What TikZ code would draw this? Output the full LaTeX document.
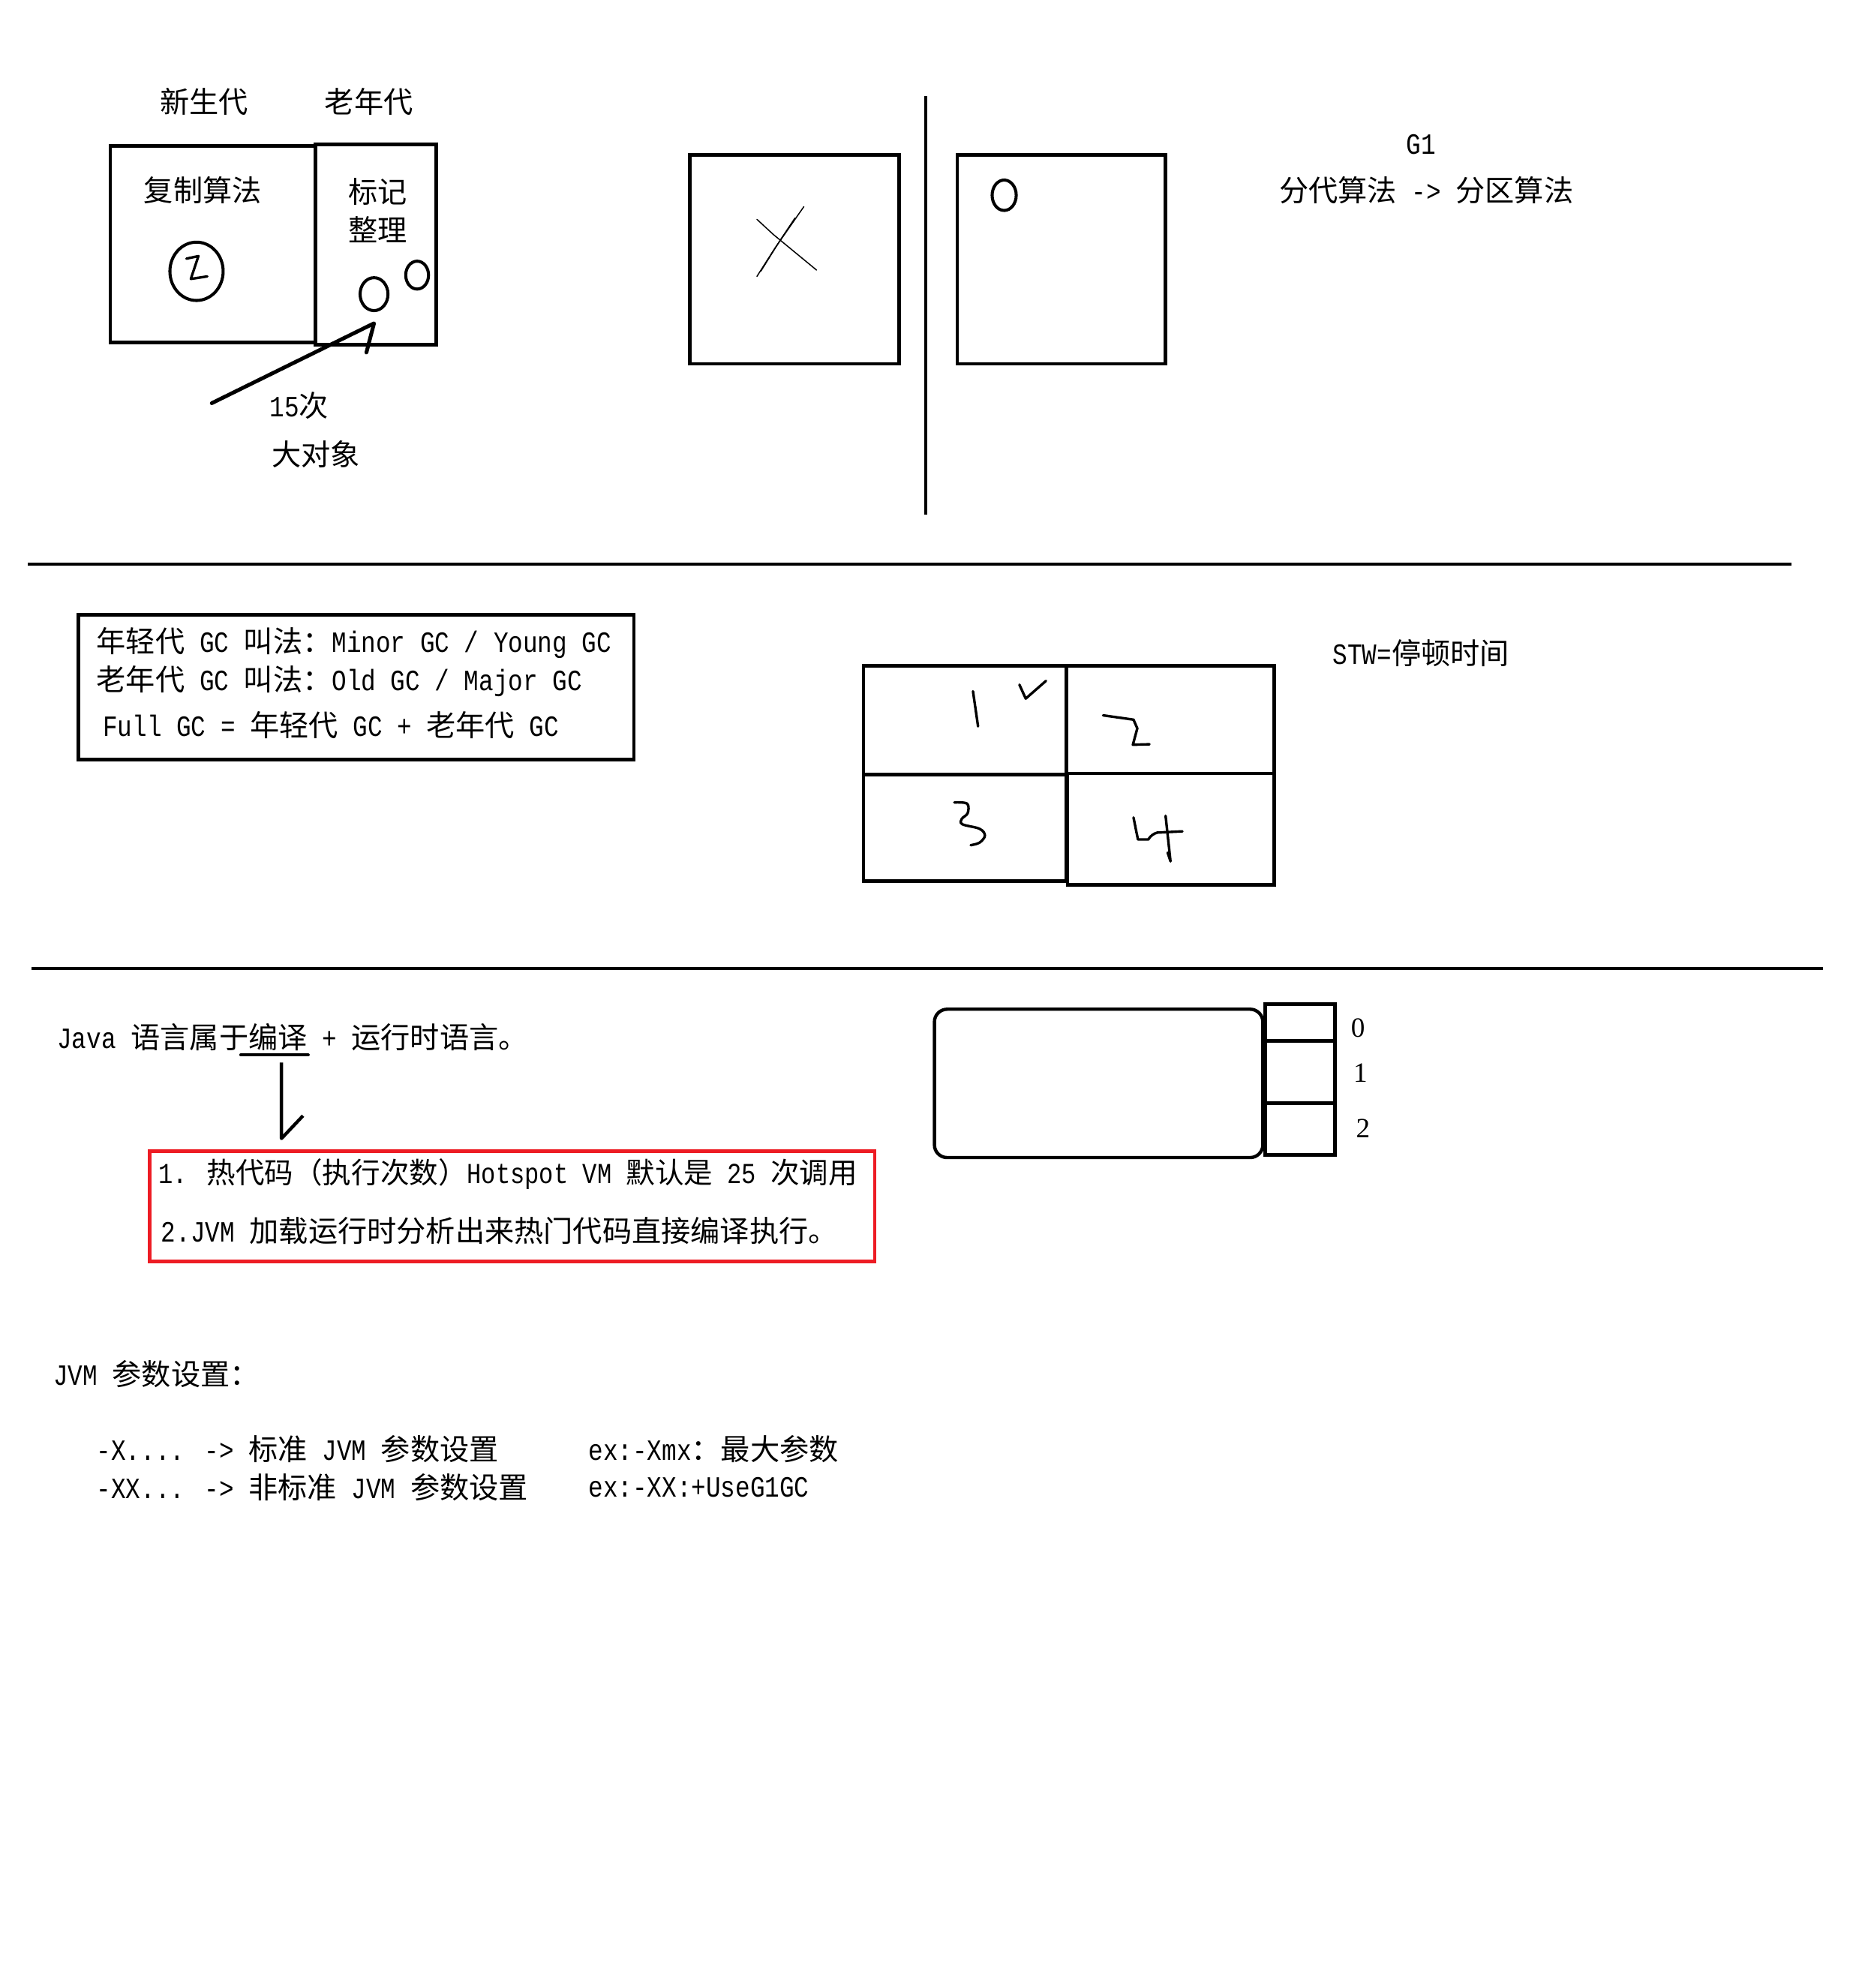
\documentclass[tikz,border=0pt]{standalone}
\usepackage{fontspec}
\setmainfont{Liberation Mono}[FakeStretch=0.8333]
\newfontfamily\zhfont{Noto Sans CJK SC}
\newfontfamily\digitfont{Liberation Serif}
\newcommand\zh[1]{{\zhfont #1}}
\begin{document}
\begin{tikzpicture}[x=1pt,y=-1pt,
  txt/.style={inner sep=0pt, font=\fontsize{23.2}{27}\selectfont},
  ltxt/.style={txt, anchor=west},
  thick box/.style={line width=2.8pt},
  hand/.style={line width=2pt, line cap=round, line join=round},
  thin hand/.style={line width=0.9pt, line cap=round, line join=round},
  sep/.style={line width=2.5pt}]
\useasboundingbox[fill=white] (0,0) rectangle (1459,1568);

% ---------- Section 1: generations ----------
\node[txt] (young) at (161,80) {\zh{新生代}};
\node[txt] (old) at (291,80) {\zh{老年代}};
\draw[thick box] (87,115) rectangle (249,270);
\draw[thick box] (249,114) rectangle (344,272);
\node[txt] (copy) at (160,150) {\zh{复制算法}};
\node[txt] (mark) at (298,151) {\zh{标记}};
\node[txt] (tidy) at (298,181) {\zh{整理}};
\draw[line width=2.4pt] (155,214) ellipse [x radius=21, y radius=23];
\draw[hand] (147,204) -- (156.5,202) -- (150.5,220) -- (163.5,218);
\draw[line width=2.4pt] (295,232) ellipse [x radius=11, y radius=13];
\draw[line width=2.4pt] (329,217) ellipse [x radius=9, y radius=11];
\coordinate (arrowstart) at (167,318);
\coordinate (arrowtip) at (295,255);
\coordinate (arrowhook) at (289,278);
\draw[line width=3pt, line cap=round, line join=round] (arrowstart) -- (arrowtip) -- (arrowhook);
\node[txt] (fifteen) at (236,320) {15\zh{次}};
\node[txt] (bigobj) at (249,358) {\zh{大对象}};

% ---------- Section 1: region copy ----------
\draw[sep] (730,76) -- (730,406);
\draw[thick box] (544,122) rectangle (709,287);
\draw[thin hand] (597,218) -- (611,196) -- (634,163);
\draw[thin hand] (600,214) -- (615,190) -- (627,172);
\draw[thin hand] (597,173) -- (610,185) -- (644,213);
\draw[thick box] (755,122) rectangle (919,287);
\draw[line width=2.4pt] (792,154) ellipse [x radius=9.5, y radius=12];
\node[txt] (gone) at (1121,114) {G1};
\node[txt] (g1algo) at (1125,150) {\zh{分代算法} -> \zh{分区算法}};

\draw[sep] (22,445) -- (1413,445);

% ---------- Section 2 ----------
\draw[thick box] (62,485) rectangle (500,599);
\node[ltxt] (l1) at (76,507) {\zh{年轻代} GC \zh{叫法：}Minor GC / Young GC};
\node[ltxt] (l2) at (76,537) {\zh{老年代} GC \zh{叫法：}Old GC / Major GC};
\node[ltxt] (l3) at (81,572) {Full GC = \zh{年轻代} GC + \zh{老年代} GC};

\draw[thick box] (681,525) rectangle (841,611);
\draw[thick box] (841,525) rectangle (1005,610);
\draw[thick box] (681,611) rectangle (841,695);
\draw[thick box] (842,610) rectangle (1005,698);
% handwritten 1, check, 2, 3, 4
\draw[hand] (767.4,545.2) -- (771.4,572.9);
\draw[hand] (804,540) -- (809,551) -- (825,537);
\draw[hand] (870,564.2) -- (894,567.6) -- (897,574.5) -- (893.5,587.4) -- (906.6,587.0);
\draw[hand] plot[smooth, tension=0.6] coordinates {(752.7,632.9) (762.8,633.9) (763.2,641.4) (758.6,645.8) (759.0,650.1) (772.6,653.7) (776.8,659.0) (772.6,664.6) (765.6,666.6)};
\draw[hand] (894.0,644.8) -- (897.5,662.1) -- (905.7,662.1) to[bend left=20] (912.7,656.7) -- (932.6,655.7);
\draw[hand] (919.3,643.4) -- (923.2,679.4) -- (920.9,672.5);
\node[ltxt] (stw) at (1051,515) {STW=\zh{停顿时间}};

\draw[sep] (25,764) -- (1438,764);

% ---------- Section 3 ----------
\node[ltxt] (java) at (45,818) {Java \zh{语言属于编译} + \zh{运行时语言。}};
\coordinate (ulleft) at (190,832);
\coordinate (ulright) at (243,832);
\draw[line width=2.6pt, line cap=round] (ulleft) -- (ulright);
\coordinate (jarrowtop) at (222,838);
\coordinate (jarrowtip) at (222,898);
\coordinate (jarrowhook) at (239,880);
\draw[line width=2.6pt, line join=round] (jarrowtop) -- (jarrowtip) -- (jarrowhook);
\definecolor{boxred}{RGB}{237,28,36}
\draw[line width=2.6pt, draw=boxred] (118,908) rectangle (690,995);
\node[ltxt, font=\fontsize{22.8}{27}\selectfont] (r1) at (125,926) {1. \zh{热代码（执行次数）}Hotspot VM \zh{默认是} 25 \zh{次调用}};
\node[ltxt] (r2) at (127,971) {2.JVM \zh{加载运行时分析出来热门代码直接编译执行。}};

\draw[line width=2.6pt, rounded corners=10pt] (737,796) rectangle (996,913);
\draw[line width=2.6pt] (998,792) rectangle (1053,911);
\draw[line width=2.6pt] (998,821) -- (1053,821);
\draw[line width=2.6pt] (998,870) -- (1053,870);
\node[txt, font=\digitfont\fontsize{22}{26}\selectfont] (s0) at (1071,811) {0};
\node[txt, font=\digitfont\fontsize{22}{26}\selectfont] (s1) at (1073,846) {1};
\node[txt, font=\digitfont\fontsize{22}{26}\selectfont] (s2) at (1075,890) {2};

% ---------- Section 4 ----------
\node[ltxt] (jvmp) at (42,1084) {JVM \zh{参数设置：}};
\node[ltxt] (p1) at (76,1143) {-X.... -> \zh{标准} JVM \zh{参数设置}};
\node[ltxt] (e1) at (464,1143) {ex:-Xmx\zh{：最大参数}};
\node[ltxt] (p2) at (76,1173) {-XX... -> \zh{非标准} JVM \zh{参数设置}};
\node[ltxt] (e2) at (464,1173) {ex:-XX:+UseG1GC};
\end{tikzpicture}
\end{document}
